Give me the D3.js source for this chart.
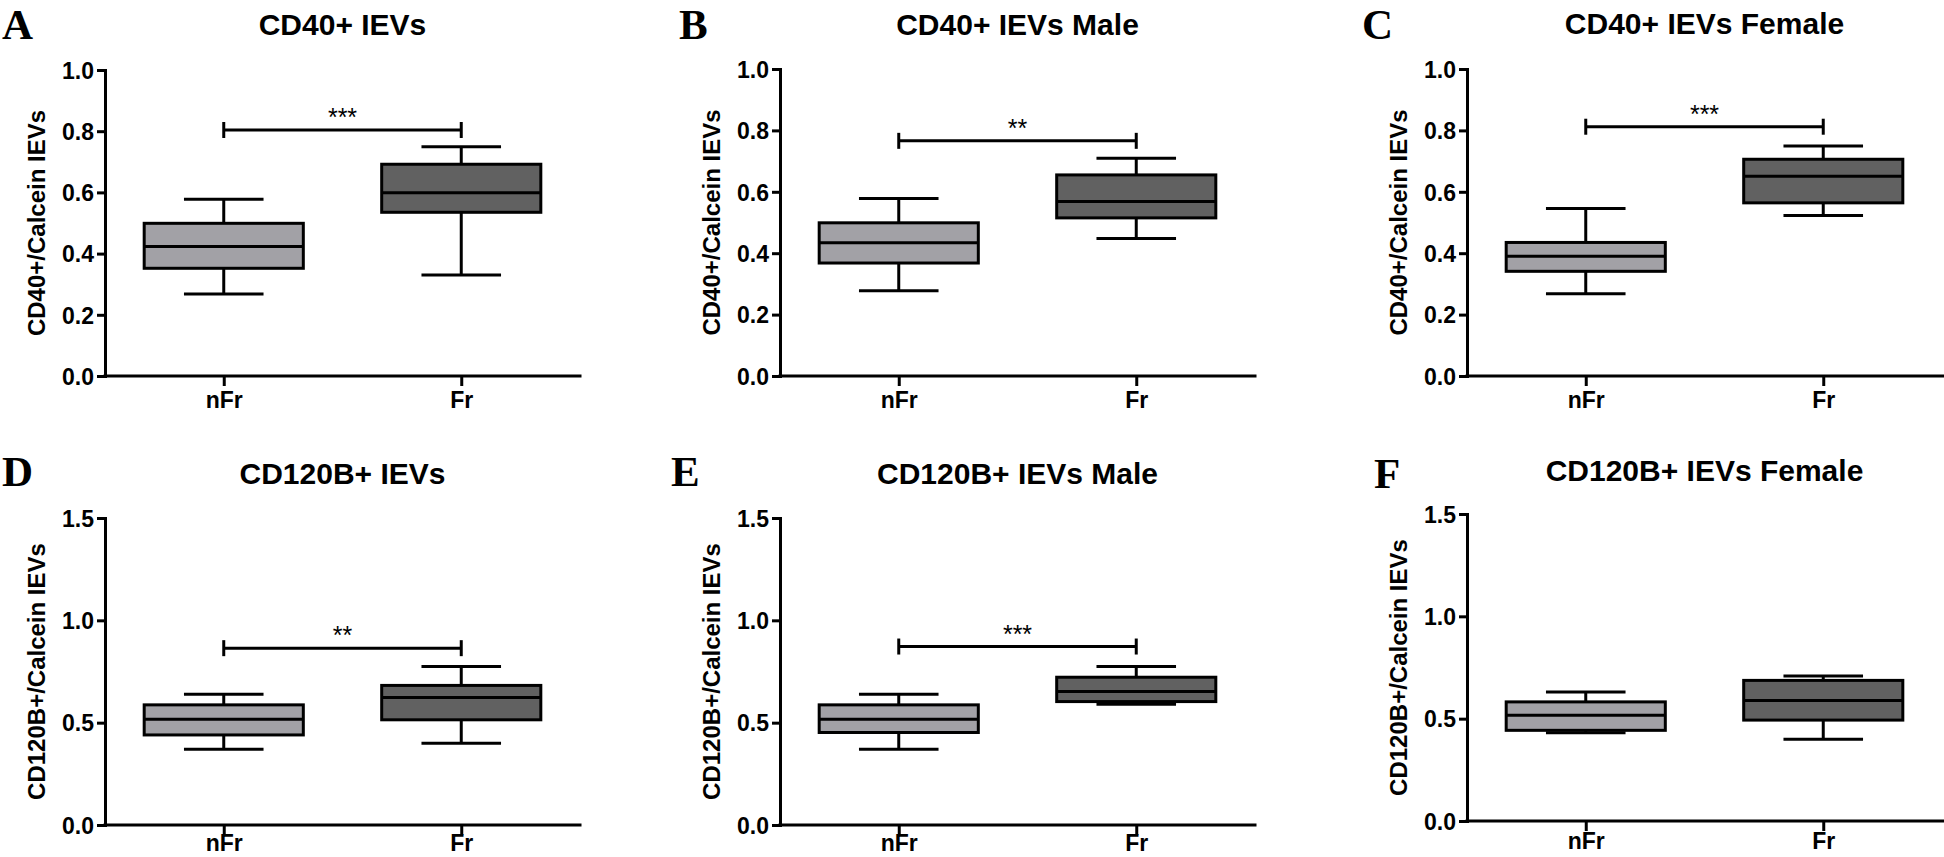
<!DOCTYPE html>
<html>
<head>
<meta charset="utf-8">
<script src="https://cdn.jsdelivr.net/npm/d3@7"></script>
<style>
  body { margin: 0; background: #fff; }
  svg { display: block; }
  text { font-family: "Liberation Sans", Arial, sans-serif; font-weight: bold; fill: #000; }
</style>
</head>
<body>
<div id="chart"></div>
<script>
// groups on the x axis
var groups = ["nFr", "Fr"];

var letters = ["A", "B", "C", "D", "E", "F"];
var titles = ["CD40+ IEVs", "CD40+ IEVs Male", "CD40+ IEVs Female",
              "CD120B+ IEVs", "CD120B+ IEVs Male", "CD120B+ IEVs Female"];
var yLabels = ["CD40+/Calcein IEVs", "CD40+/Calcein IEVs", "CD40+/Calcein IEVs",
               "CD120B+/Calcein IEVs", "CD120B+/Calcein IEVs", "CD120B+/Calcein IEVs"];

var ticksCD40 = [0, 0.2, 0.4, 0.6, 0.8, 1.0];
var ticksCD120 = [0, 0.5, 1.0, 1.5];

// box stats per panel: [min, q1, median, q3, max]
var nFrStats = [
    [0.268, 0.352, 0.423, 0.499, 0.578],
    [0.278, 0.368, 0.434, 0.499, 0.578],
    [0.268, 0.341, 0.390, 0.435, 0.546],
    [0.370, 0.440, 0.517, 0.587, 0.639],
    [0.370, 0.452, 0.517, 0.587, 0.639],
    [0.431, 0.443, 0.517, 0.582, 0.630]
];
var frStats = [
    [0.330, 0.535, 0.599, 0.692, 0.749],
    [0.448, 0.515, 0.568, 0.655, 0.709],
    [0.523, 0.564, 0.651, 0.706, 0.749],
    [0.399, 0.514, 0.623, 0.682, 0.774],
    [0.590, 0.603, 0.652, 0.722, 0.774],
    [0.399, 0.493, 0.589, 0.687, 0.708]
];

// significance bracket: label and height (null = none)
var sigLabels = ["***", "**", "***", "**", "***", null];
var sigLevels = [0.804, 0.766, 0.812, 0.864, 0.872, null];

// page layout of each panel (pixels)
var layout = [
    { axisX: 105, top: 70, bottom: 376, right: 580, max: 1.0, ticks: ticksCD40, title: 35, letterX: 2, letterY: 39, xPad: 6 },
    { axisX: 780, top: 69, bottom: 376, right: 1255, max: 1.0, ticks: ticksCD40, title: 35, letterX: 679, letterY: 39, xPad: 6 },
    { axisX: 1467, top: 69, bottom: 376, right: 1944, max: 1.0, ticks: ticksCD40, title: 34, letterX: 1362, letterY: 39, xPad: 6 },
    { axisX: 105, top: 518, bottom: 825, right: 580, max: 1.5, ticks: ticksCD120, title: 484, letterX: 2, letterY: 486, xPad: 0 },
    { axisX: 780, top: 518, bottom: 825, right: 1255, max: 1.5, ticks: ticksCD120, title: 484, letterX: 671, letterY: 486, xPad: 0 },
    { axisX: 1467, top: 514, bottom: 821, right: 1944, max: 1.5, ticks: ticksCD120, title: 481, letterX: 1374, letterY: 488, xPad: 2 }
];

var colors = { nFr: "#a2a1a6", Fr: "#616161" };

var svg = d3.select("#chart")
    .append("svg")
    .attr("width", 1944)
    .attr("height", 857);

var fmt = d3.format(".1f");
var plotWidth = 475;

layout.forEach(function (L, i) {
    var g = svg.append("g");

    var x = d3.scalePoint()
        .domain(groups)
        .range([L.axisX, L.axisX + plotWidth])
        .padding(0.5);
    var y = d3.scaleLinear()
        .domain([0, L.max])
        .range([L.bottom, L.top]);

    var boxW = plotWidth * 0.335;
    var capW = boxW / 2;

    // y axis
    var ya = g.append("g")
        .attr("transform", "translate(" + L.axisX + ",0)")
        .call(d3.axisLeft(y).tickValues(L.ticks).tickFormat(fmt).tickSize(8).tickSizeOuter(0).tickPadding(3));
    ya.select(".domain").attr("stroke-width", 3).attr("stroke-linecap", "square");
    ya.selectAll(".tick line").attr("stroke-width", 3);
    ya.selectAll(".tick text").style("font-size", "23px").attr("dy", "0.36em").attr("font-family", null);

    // x axis
    var xa = g.append("g")
        .attr("transform", "translate(0," + L.bottom + ")")
        .call(d3.axisBottom(x).tickSize(10).tickSizeOuter(0).tickPadding(L.xPad));
    xa.select(".domain").remove();
    xa.selectAll(".tick line").attr("stroke-width", 3);
    xa.selectAll(".tick text").style("font-size", "23px").attr("font-family", null);
    g.append("line")
        .attr("x1", L.axisX).attr("x2", L.right)
        .attr("y1", L.bottom).attr("y2", L.bottom)
        .attr("stroke", "#000").attr("stroke-width", 3).attr("stroke-linecap", "square");

    // boxes
    var stats = [nFrStats[i], frStats[i]];
    groups.forEach(function (grp, j) {
        var s = stats[j];
        var cx = x(grp);
        var bg = g.append("g").attr("stroke", "#000").attr("stroke-width", 3);
        // whiskers
        bg.append("line").attr("x1", cx).attr("x2", cx).attr("y1", y(s[0])).attr("y2", y(s[1]));
        bg.append("line").attr("x1", cx).attr("x2", cx).attr("y1", y(s[3])).attr("y2", y(s[4]));
        bg.append("line").attr("x1", cx - capW / 2).attr("x2", cx + capW / 2).attr("y1", y(s[0])).attr("y2", y(s[0]));
        bg.append("line").attr("x1", cx - capW / 2).attr("x2", cx + capW / 2).attr("y1", y(s[4])).attr("y2", y(s[4]));
        // box
        bg.append("rect")
            .attr("x", cx - boxW / 2)
            .attr("y", y(s[3]))
            .attr("width", boxW)
            .attr("height", y(s[1]) - y(s[3]))
            .attr("fill", colors[grp]);
        bg.append("line").attr("x1", cx - boxW / 2).attr("x2", cx + boxW / 2).attr("y1", y(s[2])).attr("y2", y(s[2]));
    });

    // significance bracket
    if (sigLevels[i] != null) {
        var by = y(sigLevels[i]);
        var bk = g.append("g").attr("stroke", "#000").attr("stroke-width", 3);
        bk.append("line").attr("x1", x("nFr")).attr("x2", x("Fr")).attr("y1", by).attr("y2", by);
        bk.append("line").attr("x1", x("nFr")).attr("x2", x("nFr")).attr("y1", by - 8).attr("y2", by + 8);
        bk.append("line").attr("x1", x("Fr")).attr("x2", x("Fr")).attr("y1", by - 8).attr("y2", by + 8);
        g.append("text")
            .attr("x", (x("nFr") + x("Fr")) / 2)
            .attr("y", by - 4)
            .attr("text-anchor", "middle")
            .style("font-size", "25px")
            .style("font-weight", "normal")
            .text(sigLabels[i]);
    }

    // y label
    g.append("text")
        .attr("transform", "translate(" + (L.axisX - 60) + "," + ((L.top + L.bottom) / 2) + ") rotate(-90)")
        .attr("text-anchor", "middle")
        .style("font-size", "24px")
        .text(yLabels[i]);

    // title
    g.append("text")
        .attr("x", L.axisX + plotWidth / 2)
        .attr("y", L.title)
        .attr("text-anchor", "middle")
        .style("font-size", "30px")
        .text(titles[i]);

    // panel letter
    g.append("text")
        .attr("x", L.letterX)
        .attr("y", L.letterY)
        .style("font-family", '"Liberation Serif", "Times New Roman", serif')
        .style("font-size", "43px")
        .text(letters[i]);
});
</script>
</body>
</html>
